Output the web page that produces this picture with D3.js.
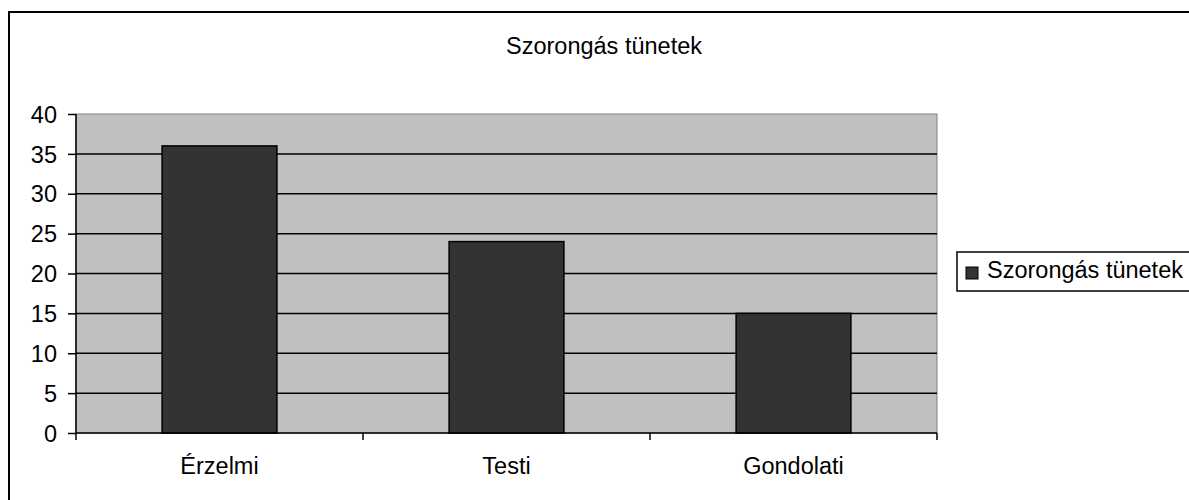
<!DOCTYPE html>
<html>
<head>
<meta charset="utf-8">
<script src="https://cdn.jsdelivr.net/npm/d3@7"></script>
<style>
  body { margin: 0; background: #fff; }
  svg text { font-family: "Liberation Sans", Arial, sans-serif; fill: #000; }
</style>
</head>
<body>
<div id="chart"></div>
<script>
// chart data
var categories = ["Érzelmi", "Testi", "Gondolati"];
var values = [36, 24, 15];
var seriesName = "Szorongás tünetek";
var yTicks = [0, 5, 10, 15, 20, 25, 30, 35, 40];

var fontSize = 23.5;

var svg = d3.select("#chart").append("svg")
  .attr("width", 1189)
  .attr("height", 500);

// outer chart frame (runs off right and bottom edge)
svg.append("rect")
  .attr("x", 9).attr("y", 12)
  .attr("width", 1200).attr("height", 520)
  .attr("fill", "#fff")
  .attr("stroke", "#000")
  .attr("stroke-width", 2);

var margin = { top: 114, left: 76 };
var width = 861, height = 319;

var g = svg.append("g").attr("transform", "translate(" + margin.left + "," + margin.top + ")");

var x = d3.scaleBand()
  .domain(categories)
  .range([0, width])
  .paddingInner(0.6)
  .paddingOuter(0.3);

var xb = d3.scaleBand().domain(categories).range([0, width]);

var y = d3.scaleLinear()
  .domain([0, 40])
  .range([height, 0]);

// plot background
g.append("rect")
  .attr("width", width).attr("height", height)
  .attr("fill", "#c0c0c0")
  .attr("stroke", "#808080")
  .attr("stroke-width", 1);

// gridlines
g.selectAll(".grid")
  .data(yTicks.filter(function (d) { return d > 0 && d < 40; }))
  .enter().append("line")
  .attr("class", "grid")
  .attr("x1", 0).attr("x2", width)
  .attr("y1", function (d) { return y(d); })
  .attr("y2", function (d) { return y(d); })
  .attr("stroke", "#000")
  .attr("stroke-width", 1.5);

// bars
g.selectAll(".bar")
  .data(values)
  .enter().append("rect")
  .attr("class", "bar")
  .attr("x", function (d, i) { return x(categories[i]); })
  .attr("y", function (d) { return y(d); })
  .attr("width", x.bandwidth())
  .attr("height", function (d) { return height - y(d); })
  .attr("fill", "#333333")
  .attr("stroke", "#000")
  .attr("stroke-width", 1.5);

// y axis
var yAxis = g.append("g")
  .call(d3.axisLeft(y).tickValues(yTicks).tickSize(8).tickPadding(11));
yAxis.attr("font-size", null);
yAxis.select(".domain").attr("stroke", "#000").attr("stroke-width", 1.5).attr("d", "M0,0V" + height);
yAxis.selectAll(".tick line").attr("stroke", "#000").attr("stroke-width", 1.5);
yAxis.selectAll("text").attr("font-size", fontSize).attr("dy", "0.35em");

// x axis, ticks on category boundaries
var xAxis = g.append("g").attr("transform", "translate(0," + height + ")");
xAxis.append("line")
  .attr("x1", 0).attr("x2", width)
  .attr("stroke", "#000").attr("stroke-width", 1.5);
xAxis.selectAll(".xtick")
  .data([0].concat(categories.map(function (c) { return xb(c) + xb.bandwidth(); })))
  .enter().append("line")
  .attr("x1", function (d) { return d; })
  .attr("x2", function (d) { return d; })
  .attr("y1", 0).attr("y2", 7)
  .attr("stroke", "#000").attr("stroke-width", 1.5);
xAxis.selectAll(".xlab")
  .data(categories)
  .enter().append("text")
  .attr("x", function (d) { return xb(d) + xb.bandwidth() / 2; })
  .attr("y", 41)
  .attr("text-anchor", "middle")
  .attr("font-size", fontSize)
  .text(function (d) { return d; });

// title
svg.append("text")
  .attr("x", 604).attr("y", 54)
  .attr("text-anchor", "middle")
  .attr("font-size", fontSize)
  .text(seriesName);

// legend
var leg = svg.append("g").attr("transform", "translate(957,252)");
leg.append("rect")
  .attr("width", 250).attr("height", 39)
  .attr("fill", "#fff").attr("stroke", "#000").attr("stroke-width", 1.5);
leg.append("rect")
  .attr("x", 9).attr("y", 15).attr("width", 12).attr("height", 12)
  .attr("fill", "#333333").attr("stroke", "#000").attr("stroke-width", 1);
leg.append("text")
  .attr("x", 30).attr("y", 26)
  .attr("font-size", fontSize)
  .text(seriesName);
</script>
</body>
</html>
